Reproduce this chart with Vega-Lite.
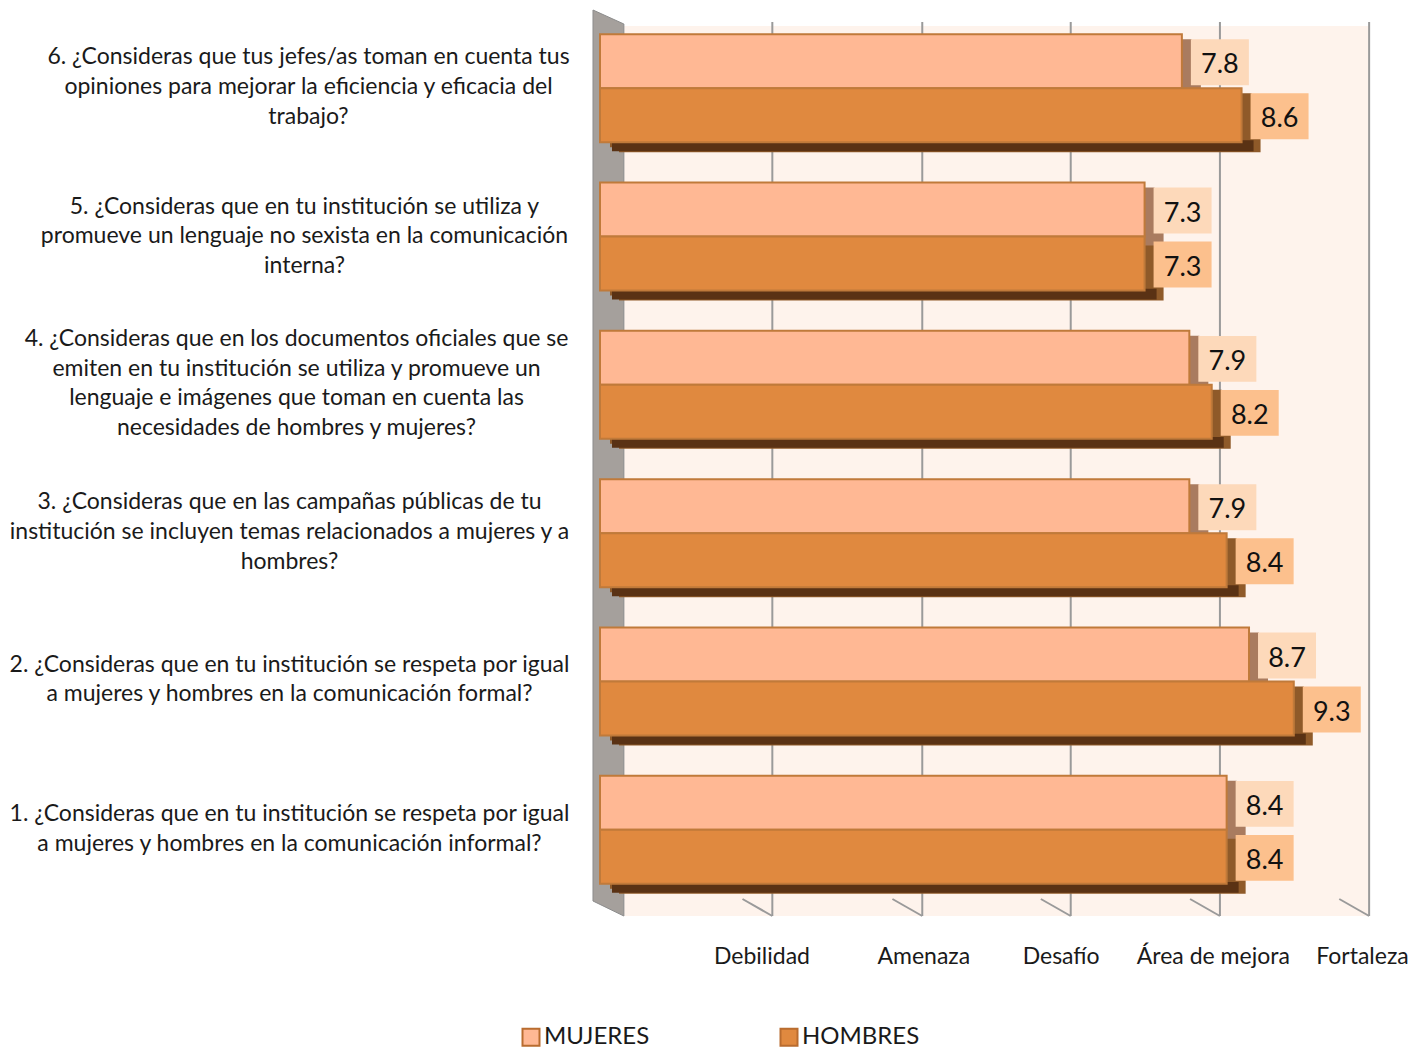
{"$schema":"https://vega.github.io/schema/vega-lite/v6.json","width":746,"height":890,"autosize":{"type":"none"},"padding":{"left":600,"top":14,"right":80,"bottom":143},"background":"white","config":{"view":{"stroke":null},"font":"Lato"},
"datasets":{"bars":[
{"pregunta":"6. ¿Consideras que tus jefes/as toman en cuenta tus|opiniones para mejorar la eficiencia y eficacia del|trabajo?","serie":"MUJERES","valor":7.8},
{"pregunta":"6. ¿Consideras que tus jefes/as toman en cuenta tus|opiniones para mejorar la eficiencia y eficacia del|trabajo?","serie":"HOMBRES","valor":8.6},
{"pregunta":"5. ¿Consideras que en tu institución se utiliza y|promueve un lenguaje no sexista en la comunicación|interna?","serie":"MUJERES","valor":7.3},
{"pregunta":"5. ¿Consideras que en tu institución se utiliza y|promueve un lenguaje no sexista en la comunicación|interna?","serie":"HOMBRES","valor":7.3},
{"pregunta":"4. ¿Consideras que en los documentos oficiales que se|emiten en tu institución se utiliza y promueve un|lenguaje e imágenes que toman en cuenta las|necesidades de hombres y mujeres?","serie":"MUJERES","valor":7.9},
{"pregunta":"4. ¿Consideras que en los documentos oficiales que se|emiten en tu institución se utiliza y promueve un|lenguaje e imágenes que toman en cuenta las|necesidades de hombres y mujeres?","serie":"HOMBRES","valor":8.2},
{"pregunta":"3. ¿Consideras que en las campañas públicas de tu|institución se incluyen temas relacionados a mujeres y a|hombres?","serie":"MUJERES","valor":7.9},
{"pregunta":"3. ¿Consideras que en las campañas públicas de tu|institución se incluyen temas relacionados a mujeres y a|hombres?","serie":"HOMBRES","valor":8.4},
{"pregunta":"2. ¿Consideras que en tu institución se respeta por igual|a mujeres y hombres en la comunicación formal?","serie":"MUJERES","valor":8.7},
{"pregunta":"2. ¿Consideras que en tu institución se respeta por igual|a mujeres y hombres en la comunicación formal?","serie":"HOMBRES","valor":9.3},
{"pregunta":"1. ¿Consideras que en tu institución se respeta por igual|a mujeres y hombres en la comunicación informal?","serie":"MUJERES","valor":8.4},
{"pregunta":"1. ¿Consideras que en tu institución se respeta por igual|a mujeres y hombres en la comunicación informal?","serie":"HOMBRES","valor":8.4}
],
"pared":[{"px":-0.094,"a":10,"b":901},{"px":0.32,"a":24,"b":916}],
"fondo":[{"x1":0.32,"x2":10.32,"a":26,"b":916}],
"rejilla":[{"v":2.31,"f":1.91,"top":22,"bot":916,"low":899},{"v":4.32,"f":3.92,"top":22,"bot":916,"low":899},{"v":6.31,"f":5.91,"top":22,"bot":916,"low":899},{"v":8.31,"f":7.91,"top":22,"bot":916,"low":899},{"v":10.31,"f":9.91,"top":22,"bot":916,"low":899}]},
"layer":[
{"layer":[
{"data":{"name":"fondo"},"mark":{"type":"rect","fill":"#fef3ec"},"encoding":{"x":{"field":"x1","type":"quantitative","scale":{"domain":[0,10],"nice":false,"zero":false},"axis":{"values":[1.95,4.12,5.96,8,10],"title":null,"domain":false,"ticks":false,"grid":false,"labelExpr":"datum.value<3?'Debilidad':datum.value<5?'Amenaza':datum.value<7?'Desafío':datum.value<9?'Área de mejora':'Fortaleza'","labelFontSize":23,"labelFont":"Lato","labelColor":"#1a1a1a","labelPadding":52,"labelBaseline":"middle","labelOffset":16,"labelBound":false,"labelFlush":false,"labelOverlap":false}},"x2":{"field":"x2"},"y":{"field":"a","type":"quantitative","scale":{"domain":[14,904],"reverse":true,"nice":false,"zero":false},"axis":null},"y2":{"field":"b"}}},
{"data":{"name":"pared"},"mark":{"type":"area","fill":"#a5a09c","orient":"vertical","stroke":"#8c8c8c","strokeWidth":1},"encoding":{"x":{"field":"px","type":"quantitative"},"y":{"field":"a","type":"quantitative"},"y2":{"field":"b"}}},
{"data":{"name":"rejilla"},"mark":{"type":"rule","stroke":"#9a9a9a","strokeWidth":2},"encoding":{"x":{"field":"v","type":"quantitative"},"y":{"field":"top","type":"quantitative"},"y2":{"field":"bot"}}},
{"data":{"name":"rejilla"},"mark":{"type":"rule","stroke":"#9a9a9a","strokeWidth":2},"encoding":{"x":{"field":"f","type":"quantitative"},"x2":{"field":"v"},"y":{"field":"low","type":"quantitative"},"y2":{"field":"bot"}}}
]},
{"data":{"name":"bars"},
"resolve":{"scale":{"yOffset":"independent"}},
"encoding":{"y":{"field":"pregunta","type":"nominal","sort":null,"title":null,"scale":{"paddingInner":0.272,"paddingOuter":0.136},"axis":{"orient":"left","domain":false,"ticks":false,"labelExpr":"split(datum.label,'|')","labelAlign":"center",
"labelPadding":{"condition":[{"test":"indexof(datum.value,'6.')==0","value":292},{"test":"indexof(datum.value,'5.')==0","value":296},{"test":"indexof(datum.value,'4.')==0","value":304}],"value":311},
"labelOffset":{"condition":[{"test":"indexof(datum.value,'6.')==0","value":-31},{"test":"indexof(datum.value,'5.')==0","value":-30},{"test":"indexof(datum.value,'4.')==0","value":-46},{"test":"indexof(datum.value,'3.')==0","value":-31},{"test":"indexof(datum.value,'2.')==0","value":-17}],"value":-16},
"labelFontSize":23,"labelFont":"Lato","labelColor":"#1a1a1a","labelLimit":0,"labelLineHeight":29.7,"labelBound":false,"labelOverlap":false}},
"x":{"field":"valor","type":"quantitative"}},
"layer":[
{"mark":{"type":"bar","xOffset":19},"encoding":{"yOffset":{"field":"serie","type":"nominal","sort":["MUJERES","HOMBRES"],"scale":{"paddingInner":0,"paddingOuter":0,"range":[10,118]}},"fill":{"condition":{"test":"datum.serie=='MUJERES'","value":"#a97b5f"},"value":"#8f5a29"}}},
{"mark":{"type":"bar","xOffset":10},"encoding":{"yOffset":{"field":"serie","type":"nominal","sort":["MUJERES","HOMBRES"],"scale":{"paddingInner":0,"paddingOuter":0,"range":[5,113]}},"fill":{"condition":{"test":"datum.serie=='MUJERES'","value":"#a97b5f"},"value":"#8f5a29"}}},
{"mark":{"type":"bar","xOffset":12,"height":{"band":0.2}},"encoding":{"yOffset":{"field":"serie","type":"nominal","sort":["MUJERES","HOMBRES"],"scale":{"paddingInner":0,"paddingOuter":0,"range":[9,117]}},"fill":{"condition":{"test":"datum.serie=='MUJERES'","value":"#a97b5f"},"value":"#5a3214"}}},
{"mark":{"type":"bar","stroke":"#c07a3a","strokeWidth":2},"encoding":{"yOffset":{"field":"serie","type":"nominal","sort":["MUJERES","HOMBRES"],"scale":{"paddingInner":0,"paddingOuter":0,"range":[0,108]}},"color":{"field":"serie","type":"nominal","sort":["MUJERES","HOMBRES"],"scale":{"domain":["MUJERES","HOMBRES"],"range":["#ffb894","#e0893f"]},"legend":{"title":null,"orient":"none","legendX":-81,"legendY":1011,"direction":"horizontal","columns":2,"columnPadding":126,"symbolType":"square","symbolSize":289,"symbolStrokeColor":"#b96c2f","symbolStrokeWidth":2,"symbolOpacity":1,"labelFontSize":24,"labelFont":"Lato","labelColor":"#1a1a1a","labelOffset":1}}}},
{"mark":{"type":"bar","xOffset":9,"x2Offset":67,"height":{"band":0.85}},"encoding":{"yOffset":{"field":"serie","type":"nominal","sort":["MUJERES","HOMBRES"],"scale":{"paddingInner":0,"paddingOuter":0,"range":[-3,105]}},"x2":{"field":"valor"},"fill":{"condition":{"test":"datum.serie=='MUJERES'","value":"#fdd9ba"},"value":"#fcc08d"}}},
{"mark":{"type":"text","xOffset":38,"align":"center","baseline":"middle","fontSize":27,"font":"Lato","color":"#111111"},"encoding":{"yOffset":{"field":"serie","type":"nominal","sort":["MUJERES","HOMBRES"],"scale":{"type":"band","paddingInner":0,"paddingOuter":0,"range":[4,112]}},"text":{"field":"valor","type":"quantitative","format":".1f"}}}
]}
],
"resolve":{"scale":{"y":"independent"}}}
